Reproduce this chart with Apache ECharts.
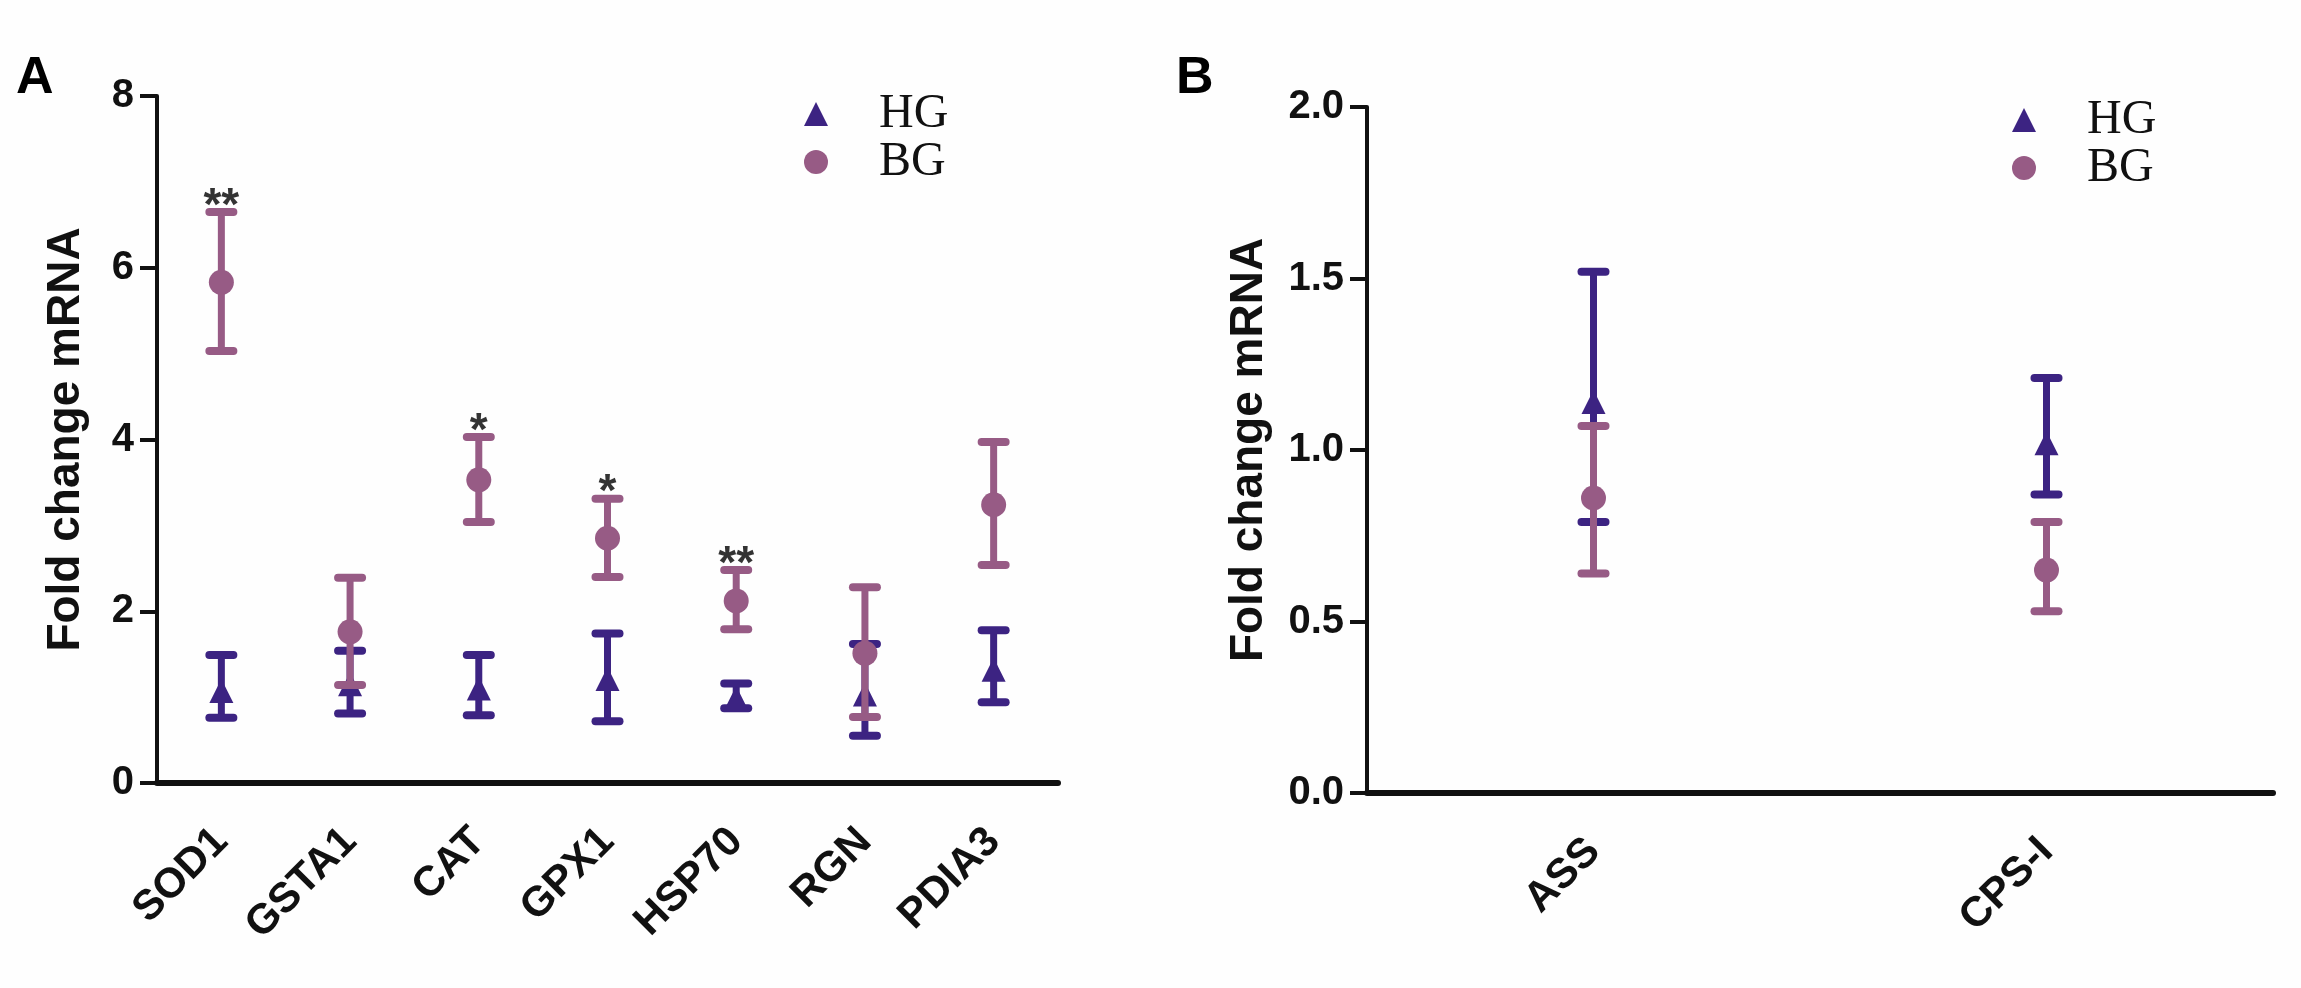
<!DOCTYPE html>
<html>
<head>
<meta charset="utf-8">
<script src="https://cdn.jsdelivr.net/npm/echarts@6/dist/echarts.min.js"></script>
<style>
  html, body { margin: 0; padding: 0; background: #fefefe; }
  #main { width: 2301px; height: 988px; }
</style>
</head>
<body>
<div id="main"></div>
<script>
// panel A data
const genesA = ["SOD1", "GSTA1", "CAT", "GPX1", "HSP70", "RGN", "PDIA3"];
const hgMeanA = [1.07, 1.15, 1.10, 1.21, 0.99, 1.03, 1.32];
const hgLowA = [0.76, 0.81, 0.79, 0.72, 0.87, 0.55, 0.94];
const hgHighA = [1.49, 1.54, 1.49, 1.74, 1.16, 1.62, 1.78];
const bgMeanA = [5.83, 1.76, 3.53, 2.85, 2.12, 1.51, 3.24];
const bgLowA = [5.03, 1.14, 3.04, 2.40, 1.79, 0.77, 2.54];
const bgHighA = [6.65, 2.39, 4.03, 3.31, 2.48, 2.28, 3.97];
const starsA = ["**", "", "*", "*", "**", "", ""];

// panel B data
const genesB = ["ASS", "CPS-I"];
const hgMeanB = [1.14, 1.02];
const hgLowB = [0.79, 0.87];
const hgHighB = [1.52, 1.21];
const bgMeanB = [0.86, 0.65];
const bgLowB = [0.64, 0.53];
const bgHighB = [1.07, 0.79];

const yTicksA = [0, 8, 2];
const yTicksB = [0, 2, 0.5];

const HG_COLOR = "#3c2382";
const BG_COLOR = "#975b85";
const SANS = "Liberation Sans, Arial, sans-serif";
const SERIF = "Liberation Serif, Times New Roman, serif";

const chart = echarts.init(document.getElementById("main"));

// error bars: stem + two caps
function errorBar(color) {
    return function (params, api) {
        const lo = api.coord([api.value(0), api.value(1)]);
        const hi = api.coord([api.value(0), api.value(2)]);
        const half = 12;
        return {
            type: "group",
            children: [
                {
                    type: "line",
                    shape: { x1: hi[0], y1: hi[1], x2: lo[0], y2: lo[1] },
                    style: { stroke: color, lineWidth: 7 }
                },
                {
                    type: "line",
                    shape: { x1: hi[0] - half, y1: hi[1], x2: hi[0] + half, y2: hi[1] },
                    style: { stroke: color, lineWidth: 8, lineCap: "round" }
                },
                {
                    type: "line",
                    shape: { x1: lo[0] - half, y1: lo[1], x2: lo[0] + half, y2: lo[1] },
                    style: { stroke: color, lineWidth: 8, lineCap: "round" }
                }
            ]
        };
    };
}

function barData(low, high) {
    return low.map((v, i) => [i, v, high[i]]);
}

function xAxis(idx, cats) {
    return {
        type: "category",
        gridIndex: idx,
        data: cats,
        boundaryGap: true,
        axisLine: { lineStyle: { color: "#111", width: 6 } },
        axisTick: { alignWithLabel: true, length: 18, lineStyle: { color: "#111", width: 4 } },
        axisLabel: {
            rotate: 45, margin: 52, color: "#111",
            fontFamily: SANS, fontWeight: "bold", fontSize: 42
        },
        splitLine: { show: false }
    };
}

function yAxis(idx, ticks, gap, digits) {
    return {
        type: "value",
        gridIndex: idx,
        min: ticks[0], max: ticks[1], interval: ticks[2],
        name: "Fold change mRNA",
        nameLocation: "middle",
        nameGap: gap,
        nameTextStyle: { fontFamily: SANS, fontWeight: "bold", fontSize: 46, color: "#111" },
        axisLine: { show: true, lineStyle: { color: "#111", width: 4 } },
        axisTick: { show: true, length: 17, lineStyle: { color: "#111", width: 4 } },
        axisLabel: {
            margin: 23, color: "#111",
            fontFamily: SANS, fontWeight: "bold", fontSize: 40,
            formatter: v => v.toFixed(digits)
        },
        splitLine: { show: false }
    };
}

function legend(left, top) {
    return {
        orient: "vertical",
        left: left, top: top,
        itemWidth: 24, itemHeight: 24, itemGap: 0,
        selectedMode: false,
        textStyle: { fontFamily: SERIF, fontSize: 48, lineHeight: 48, color: "#111", padding: [0, 0, 0, 46] },
        data: [
            { name: "HG", icon: "triangle", itemStyle: { color: HG_COLOR } },
            { name: "BG", icon: "circle", itemStyle: { color: BG_COLOR } }
        ]
    };
}

function starSeries(idx, high, stars) {
    return {
        type: "scatter",
        name: "sig",
        xAxisIndex: idx, yAxisIndex: idx,
        symbolSize: 0,
        silent: true,
        z: 5,
        data: high.map((v, i) => ({ value: [i, v], label: { show: stars[i] !== "", formatter: stars[i] } })),
        label: {
            position: "top", distance: 0, offset: [0, 18],
            fontFamily: SANS, fontWeight: "bold", fontSize: 46, color: "#000"
        }
    };
}

function panelSeries(idx, hgM, hgL, hgH, bgM, bgL, bgH) {
    return [
        {
            type: "custom", name: "HG err", xAxisIndex: idx, yAxisIndex: idx,
            renderItem: errorBar(HG_COLOR), data: barData(hgL, hgH), z: 2, silent: true
        },
        {
            type: "scatter", name: "HG", xAxisIndex: idx, yAxisIndex: idx,
            symbol: "triangle", symbolSize: [24, 24], itemStyle: { color: HG_COLOR, opacity: 1 },
            data: hgM, z: 3
        },
        {
            type: "custom", name: "BG err", xAxisIndex: idx, yAxisIndex: idx,
            renderItem: errorBar(BG_COLOR), data: barData(bgL, bgH), z: 4, silent: true
        },
        {
            type: "scatter", name: "BG", xAxisIndex: idx, yAxisIndex: idx,
            symbol: "circle", symbolSize: 25, itemStyle: { color: BG_COLOR, opacity: 1 },
            data: bgM, z: 4
        }
    ];
}

const option = {
    backgroundColor: "#fefefe",
    animation: false,
    title: [
        { text: "A", left: 16, top: 53, padding: 0, textStyle: { fontFamily: SANS, fontWeight: "bold", fontSize: 52, color: "#000" } },
        { text: "B", left: 1176, top: 53, padding: 0, textStyle: { fontFamily: SANS, fontWeight: "bold", fontSize: 52, color: "#000" } }
    ],
    legend: [legend(799, 85), legend(2007, 91)],
    grid: [
        { left: 157, top: 96, width: 901, height: 687 },
        { left: 1367, top: 107, width: 906, height: 686 }
    ],
    xAxis: [xAxis(0, genesA), xAxis(1, genesB)],
    yAxis: [yAxis(0, yTicksA, 68, 0), yAxis(1, yTicksB, 95, 1)],
    series: [
        ...panelSeries(0, hgMeanA, hgLowA, hgHighA, bgMeanA, bgLowA, bgHighA),
        starSeries(0, bgHighA, starsA),
        ...panelSeries(1, hgMeanB, hgLowB, hgHighB, bgMeanB, bgLowB, bgHighB)
    ]
};

chart.setOption(option);
window.onresize = function () {
    chart.resize();
};
</script>
</body>
</html>
